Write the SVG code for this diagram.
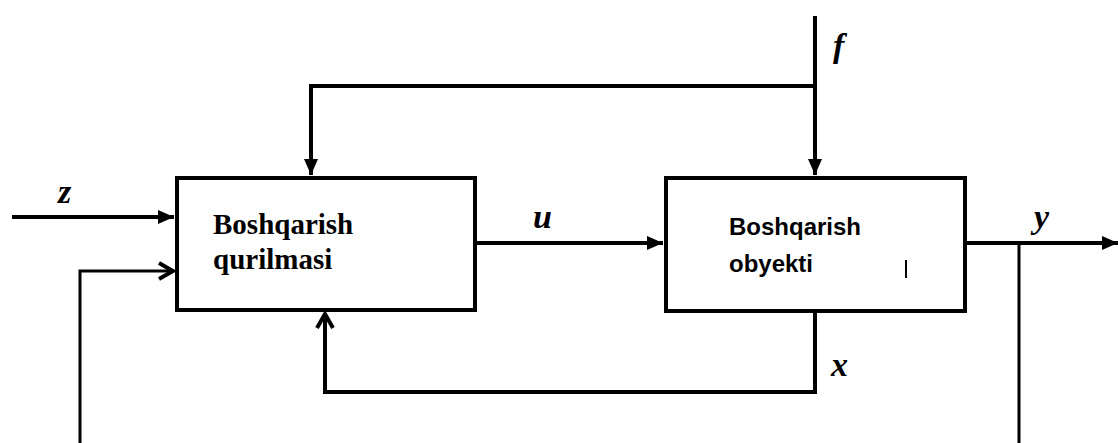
<svg xmlns="http://www.w3.org/2000/svg" width="1118" height="443" viewBox="0 0 1118 443">
<defs>
<style>
.box{fill:#fff;stroke:#000;stroke-width:4}
.ln{fill:none;stroke:#000;stroke-width:4}
.thin{fill:none;stroke:#000;stroke-width:3}
.lbl{font-family:"Liberation Serif",serif;font-weight:bold;font-style:italic;font-size:34px;fill:#000}
.t1{font-family:"Liberation Serif",serif;font-weight:bold;font-size:29px;fill:#000}
.t2{font-family:"Liberation Sans",sans-serif;font-weight:bold;font-size:24px;fill:#000}
</style>
<marker id="fa" markerUnits="userSpaceOnUse" viewBox="-16 -8 16 16" refX="0" refY="0" markerWidth="16" markerHeight="16" orient="auto">
<path d="M-16,-7 L0,0 L-16,7 Z" fill="#000"/>
</marker>
<marker id="oa" markerUnits="userSpaceOnUse" viewBox="-18 -10 20 20" refX="0" refY="0" markerWidth="20" markerHeight="20" orient="auto">
<path d="M-15,-8 L-1,0 L-15,8" fill="none" stroke="#000" stroke-width="4"/>
</marker>
</defs>
<g id="connectors">
<path class="ln" d="M815,16 V175" marker-end="url(#fa)"/>
<path class="ln" d="M815,86 H311 V175" marker-end="url(#fa)"/>
<path class="ln" d="M12,217 H174" marker-end="url(#fa)"/>
<path class="thin" d="M80,443 V271 H174" marker-end="url(#oa)"/>
<path class="ln" d="M475,243 H663" marker-end="url(#fa)"/>
<path class="ln" d="M965,243 H1118" marker-end="url(#fa)"/>
<path class="thin" d="M1019,243 V443"/>
<path class="ln" d="M815,311 V392 H325 V313" marker-end="url(#oa)"/>
<text class="lbl" x="833" y="57">f</text>
<text class="lbl" x="58" y="203">z</text>
<text class="lbl" x="533" y="228">u</text>
<text class="lbl" x="1034" y="228">y</text>
<text class="lbl" x="831" y="376">x</text>
</g>
<g id="node-qurilma">
<rect class="box" x="177" y="178" width="298" height="132"/>
<text class="t1" x="213" y="234">Boshqarish</text>
<text class="t1" x="213" y="269">qurilmasi</text>
</g>
<g id="node-obyekt">
<rect class="box" x="666" y="178" width="299" height="133"/>
<text class="t2" x="729" y="235">Boshqarish</text>
<text class="t2" x="729" y="272">obyekti</text>
<line x1="906" y1="260" x2="906" y2="278" stroke="#000" stroke-width="2"/>
</g>
</svg>
